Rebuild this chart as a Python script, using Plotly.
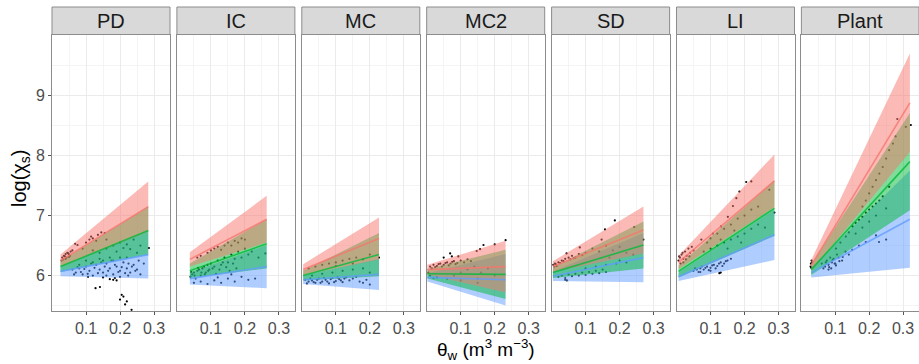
import plotly.graph_objects as go

facets = ["PD", "IC", "MC", "MC2", "SD", "LI", "Plant"]
x_start = [0.025, 0.038, 0.004, 0.002, 0.004, 0.006, 0.029]
x_end = [0.283, 0.264, 0.227, 0.232, 0.270, 0.288, 0.320]

# fitted line (start, end) and band half-width (start, end) per group
red_line0 = [6.25, 6.27, 6.10, 6.10, 6.15, 6.22, 6.17]
red_line1 = [7.15, 6.94, 6.62, 6.15, 6.76, 7.58, 8.88]
red_hw0 = [0.10, 0.12, 0.09, 0.08, 0.09, 0.11, 0.09]
red_hw1 = [0.42, 0.39, 0.35, 0.43, 0.39, 0.44, 0.82]

green_line0 = [6.15, 6.08, 6.00, 6.03, 6.05, 6.07, 6.10]
green_line1 = [6.75, 6.53, 6.35, 6.02, 6.51, 7.12, 7.90]
green_hw0 = [0.09, 0.12, 0.08, 0.08, 0.09, 0.10, 0.09]
green_hw1 = [0.40, 0.41, 0.36, 0.41, 0.39, 0.46, 0.81]

blue_line0 = [6.07, 5.95, 5.93, 5.97, 5.99, 5.98, 6.05]
blue_line1 = [6.35, 6.15, 6.02, 5.93, 6.30, 6.68, 6.94]
blue_hw0 = [0.08, 0.10, 0.07, 0.07, 0.08, 0.07, 0.08]
blue_hw1 = [0.40, 0.36, 0.26, 0.43, 0.41, 0.42, 0.81]

PD_x = [0.03,0.035,0.04,0.045,0.05,0.055,0.04,0.06,0.033,0.05,0.038,0.043,0.048,0.053,0.028,
        0.068,0.075,0.09,0.1,0.11,0.115,0.12,0.13,0.135,0.145,0.155,0.16,
        0.12,0.14,0.16,0.18,0.19,0.2,0.21,0.22,0.23,0.24,0.25,0.17,0.15,0.2,0.26,0.285,
        0.06,0.07,0.08,0.09,0.1,0.11,0.12,0.13,0.14,0.15,0.16,0.17,0.18,0.19,0.2,0.21,0.22,0.23,0.24,0.25,0.26,0.27,0.1,0.14,0.18,0.22,0.08,0.12,0.16,0.2,
        0.065,0.075,0.085,0.095,0.105,0.115,0.125,0.135,0.145,0.155,0.165,0.175,0.185,0.195,0.205,0.215,0.225,0.235,0.245,0.255,
        0.106,0.128,0.141,0.17,0.18,0.185,0.19,0.205,0.2,0.21,0.22,0.234,0.215,0.224,0.15]
PD_y = [6.30,6.33,6.36,6.38,6.35,6.40,6.28,6.42,6.27,6.31,6.32,6.30,6.37,6.33,6.25,
        6.53,6.51,6.45,6.55,6.60,6.65,6.62,6.58,6.68,6.72,6.71,6.60,
        6.42,6.38,6.45,6.50,6.40,6.55,6.46,6.52,6.44,6.60,6.38,6.30,6.25,6.30,6.50,6.46,
        6.10,6.05,6.12,6.02,6.15,6.08,6.00,6.18,6.10,6.05,6.20,6.12,6.02,6.15,6.08,6.22,6.12,6.05,6.18,6.10,6.02,6.20,6.25,6.28,6.25,6.30,6.18,6.22,6.00,5.98,
        6.02,6.14,6.06,6.11,6.03,6.20,6.13,6.04,6.22,6.15,6.08,6.25,6.18,6.06,6.14,6.04,6.20,6.15,6.08,6.25,
        5.98,5.79,5.81,5.94,5.93,5.96,5.92,5.68,5.60,5.65,5.57,5.43,5.52,6.00,5.97]

IC_x = [0.04,0.045,0.05,0.055,0.06,0.065,0.07,0.075,0.08,0.085,0.09,0.095,0.1,0.11,0.12,0.13,0.14,0.15,0.16,0.17,0.18,0.19,0.2,0.21,0.22,0.24,0.26,
        0.042,0.052,0.062,0.072,0.082,0.092,0.105,0.115,0.125,0.135,0.145,0.155,0.165,0.175,
        0.09,0.1,0.11,0.12,0.13,0.14,0.15,0.16,0.17,0.18,0.19,0.2,0.06,0.07,
        0.05,0.07,0.09,0.11,0.13,0.15,0.17,0.19,0.21,0.23,0.12,0.16]
IC_y = [5.98,6.02,6.05,5.95,6.08,6.10,6.00,6.12,6.15,6.05,6.18,6.10,6.20,6.15,6.25,6.18,6.30,6.22,6.35,6.28,6.40,6.30,6.45,6.35,6.40,6.30,6.37,
        6.06,6.00,6.13,6.05,6.02,6.08,6.12,6.03,6.10,6.22,6.14,6.08,6.20,6.12,
        6.38,6.42,6.45,6.48,6.43,6.50,6.55,6.50,6.58,6.55,6.62,6.60,6.30,6.33,
        5.88,5.90,5.86,5.92,5.88,5.95,5.90,5.98,5.93,5.95,5.97,6.02]

MC_x = [0.01,0.02,0.03,0.04,0.05,0.06,0.07,0.08,0.09,0.1,0.11,0.12,0.13,0.14,0.15,0.17,0.19,0.2,
        0.015,0.025,0.035,0.045,0.055,0.065,0.075,0.085,0.095,0.105,0.115,0.125,0.16,0.18,
        0.03,0.06,0.09,0.12,0.15,0.18,0.2,
        0.02,0.04,0.06,0.08,0.1,0.12,0.14,0.16,0.18,0.2,0.227,0.1,0.15]
MC_y = [5.93,5.90,5.92,5.88,5.95,5.90,5.93,5.87,5.96,5.91,5.94,5.89,5.97,5.92,5.95,5.90,5.93,5.85,
        5.87,5.95,5.89,5.93,5.88,5.96,5.90,5.94,5.89,5.97,5.92,5.95,5.98,5.88,
        6.00,6.03,6.05,6.08,6.10,6.12,6.05,
        6.12,6.15,6.18,6.20,6.22,6.25,6.28,6.30,6.27,6.35,6.30,6.16,6.20]

MC2_x = [0.01,0.02,0.03,0.04,0.05,0.06,0.07,0.08,0.09,0.1,0.11,0.12,0.13,0.069,0.074,0.093,0.05,
         0.015,0.025,0.035,0.045,0.055,0.065,0.075,0.085,
         0.147,0.157,0.167,0.2,0.232,0.12,0.14,0.16,0.18,0.2,0.1,0.08,0.15,
         0.01,0.005,0.02,0.03,0.06,0.1,0.15]
MC2_y = [6.15,6.18,6.16,6.20,6.18,6.22,6.20,6.24,6.21,6.25,6.22,6.27,6.24,6.37,6.32,6.32,6.30,
         6.12,6.14,6.19,6.15,6.21,6.17,6.23,6.19,
         6.41,6.44,6.51,6.52,6.59,6.10,6.15,6.05,6.12,6.00,6.05,6.00,5.95,
         6.00,6.05,5.96,5.97,5.95,5.92,5.88]

SD_x = [0.005,0.01,0.015,0.02,0.03,0.04,0.05,0.06,0.07,0.08,0.09,0.1,0.044,0.083,0.157,0.186,0.243,0.147,0.27,
        0.008,0.012,0.025,0.035,0.055,0.065,
        0.12,0.14,0.16,0.18,0.2,0.22,0.17,0.2,0.24,
        0.02,0.03,0.04,0.05,0.06,0.07,0.08,0.09,0.1,0.11,0.12,0.13,0.14,0.15,0.16,0.04,0.045,
        0.1,0.13,0.16,0.19,0.22]
SD_y = [6.18,6.20,6.16,6.22,6.25,6.28,6.30,6.33,6.30,6.36,6.34,6.38,6.37,6.47,6.77,6.92,6.81,6.60,6.60,
        6.15,6.19,6.21,6.24,6.27,6.29,
        6.45,6.40,6.50,6.42,6.48,6.38,6.30,6.25,6.35,
        5.98,6.00,5.96,6.02,5.99,6.03,6.00,6.05,6.01,6.06,6.03,6.08,6.04,6.10,6.06,5.93,5.92,
        6.12,6.15,6.18,6.20,6.22]

LI_x = [0.006,0.01,0.015,0.02,0.025,0.03,0.035,0.04,0.045,0.012,0.02,0.05,0.008,0.018,0.028,0.038,
        0.073,0.107,0.131,0.151,0.166,0.176,0.185,0.205,0.22,0.273,0.288,
        0.09,0.1,0.12,0.14,0.16,0.18,0.2,0.22,0.24,0.13,0.17,
        0.08,0.1,0.12,0.14,0.16,0.18,0.2,0.22,0.24,0.26,0.15,0.19,
        0.05,0.06,0.07,0.08,0.09,0.1,0.11,0.12,0.13,0.14,0.15,0.16,0.07,0.1,0.126,0.13,
        0.055,0.065,0.075,0.085,0.095,0.105,0.115,0.125,0.135,0.145]
LI_y = [6.25,6.30,6.35,6.28,6.40,6.33,6.45,6.38,6.48,6.20,6.22,6.42,6.32,6.38,6.27,6.32,
        6.60,6.70,6.82,6.98,7.16,7.29,7.40,7.56,7.57,7.43,7.05,
        6.55,6.62,6.70,6.78,6.85,6.95,7.00,7.10,7.15,6.60,6.75,
        6.40,6.45,6.50,6.55,6.60,6.65,6.70,6.78,6.85,6.80,6.45,6.55,
        6.08,6.10,6.12,6.10,6.15,6.13,6.18,6.16,6.22,6.20,6.25,6.28,6.06,6.08,6.04,6.05,
        6.12,6.06,6.15,6.13,6.09,6.17,6.12,6.20,6.16,6.24]

Plant_x = [0.027,0.028,0.03,0.029,0.031,0.06,0.07,0.075,0.08,0.085,0.09,0.095,0.1,0.105,0.11,0.12,0.13,0.14,0.15,0.065,0.08,
           0.072,0.082,0.092,0.102,0.112,0.122,0.088,0.098,
           0.102,0.115,0.131,0.14,0.151,0.16,0.17,0.18,0.19,0.2,0.21,0.22,0.23,0.24,0.259,0.16,0.18,0.2,0.22,0.25,
           0.18,0.19,0.2,0.21,0.22,0.23,0.24,0.25,0.259,0.27,0.278,0.283,0.323,0.308,
           0.19,0.22,0.229,0.17,0.25]
Plant_y = [6.15,6.20,6.25,6.13,6.22,6.20,6.15,6.25,6.18,6.30,6.22,6.28,6.20,6.35,6.30,6.25,6.40,6.35,6.43,6.12,6.10,
           6.22,6.14,6.26,6.17,6.24,6.31,6.12,6.20,
           6.45,6.55,6.65,6.72,6.82,6.88,6.93,6.98,7.05,7.10,7.15,7.20,7.25,7.32,7.48,6.70,6.80,6.90,7.00,7.12,
           7.15,7.25,7.37,7.48,7.59,7.70,7.81,7.95,8.09,8.20,8.32,8.61,8.51,8.48,
           6.56,6.67,6.56,6.50,6.60]

pts_x = [PD_x, IC_x, MC_x, MC2_x, SD_x, LI_x, Plant_x]
pts_y = [PD_y, IC_y, MC_y, MC2_y, SD_y, LI_y, Plant_y]

groups = {
    "blue": (blue_line0, blue_line1, blue_hw0, blue_hw1, "rgba(97,156,255,0.5)", "rgba(97,156,255,0.8)"),
    "green": (green_line0, green_line1, green_hw0, green_hw1, "rgba(0,186,56,0.5)", "rgba(0,186,56,0.8)"),
    "red": (red_line0, red_line1, red_hw0, red_hw1, "rgba(248,118,109,0.5)", "rgba(248,118,109,0.8)"),
}

W, H = 919, 364
ML, MR, MT, MB = 52, 0, 35, 53
PW_TOT = W - ML - MR
PH = H - MT - MB
pitch, pw = 124.9, 118.0

FONT = "Liberation Sans, Arial, Helvetica, sans-serif"
BORDER = "#8C8C8C"

fig = go.Figure()
layout = {}
shapes = []
annotations = []

for i, f in enumerate(facets):
    n = "" if i == 0 else str(i + 1)
    xa, ya = "x" + n, "y" + n
    fig.add_trace(go.Scatter(x=pts_x[i], y=pts_y[i], mode="markers",
                             marker=dict(color="black", size=2.2, line=dict(width=0)),
                             xaxis=xa, yaxis=ya, showlegend=False, hoverinfo="skip"))
    for g in ["blue", "green", "red"]:
        l0, l1, h0, h1, fc, lc = groups[g]
        x0, x1 = x_start[i], x_end[i]
        fig.add_trace(go.Scatter(
            x=[x0, x1, x1, x0, x0],
            y=[l0[i] - h0[i], l1[i] - h1[i], l1[i] + h1[i], l0[i] + h0[i], l0[i] - h0[i]],
            mode="lines", fill="toself", fillcolor=fc, line=dict(width=0),
            xaxis=xa, yaxis=ya, showlegend=False, hoverinfo="skip"))
    for g in ["red", "green", "blue"]:
        l0, l1, h0, h1, fc, lc = groups[g]
        fig.add_trace(go.Scatter(x=[x_start[i], x_end[i]], y=[l0[i], l1[i]], mode="lines",
                                 line=dict(color=lc, width=1.6),
                                 xaxis=xa, yaxis=ya, showlegend=False, hoverinfo="skip"))

    d0 = i * pitch / PW_TOT
    d1 = min(1.0, (i * pitch + pw) / PW_TOT)
    layout["xaxis" + n] = dict(
        domain=[d0, d1], range=[0, 0.347], anchor=ya,
        tickmode="array", tickvals=[0.1, 0.2, 0.3], ticktext=["0.1", "0.2", "0.3"],
        showgrid=True, gridcolor="#EBEBEB", gridwidth=1,
        minor=dict(tickmode="array", tickvals=[0.05, 0.15, 0.25], showgrid=True,
                   gridcolor="#F4F4F4", gridwidth=0.6, ticks=""),
        showline=True, mirror=True, linecolor=BORDER, linewidth=1,
        ticks="outside", ticklen=3, tickcolor="#555555",
        tickfont=dict(size=16, color="#4D4D4D", family=FONT), zeroline=False)
    layout["yaxis" + n] = dict(
        domain=[0, 1], range=[5.41, 10.01], anchor=xa,
        tickmode="array", tickvals=[6, 7, 8, 9], ticktext=["6", "7", "8", "9"],
        showticklabels=(i == 0), ticks="outside" if i == 0 else "", ticklen=3, tickcolor="#555555",
        showgrid=True, gridcolor="#EBEBEB", gridwidth=1,
        minor=dict(tickmode="array", tickvals=[5.5, 6.5, 7.5, 8.5, 9.5], showgrid=True,
                   gridcolor="#F4F4F4", gridwidth=0.6, ticks=""),
        showline=True, mirror=True, linecolor=BORDER, linewidth=1,
        tickfont=dict(size=16, color="#4D4D4D", family=FONT), zeroline=False)
    if i > 0:
        layout["yaxis" + n]["matches"] = "y"

    shapes.append(dict(type="rect", xref="paper", yref="paper", x0=d0, x1=d1,
                       y0=1 + 0.5 / PH, y1=1 + 28 / PH, fillcolor="#D9D9D9",
                       line=dict(color=BORDER, width=1), layer="above"))
    annotations.append(dict(text=f, xref="paper", yref="paper", x=(d0 + d1) / 2, y=1 + 14.5 / PH,
                            showarrow=False, xanchor="center", yanchor="middle",
                            font=dict(size=20, color="#1A1A1A", family=FONT)))

annotations.append(dict(text="θ<sub>w</sub> (m<sup>3</sup> m<sup>−3</sup>)", xref="paper", yref="paper",
                        x=0.5, y=(311 - 349) / PH, showarrow=False, xanchor="center", yanchor="middle",
                        font=dict(size=19, color="black", family=FONT)))
annotations.append(dict(text="log(χ<sub>s</sub>)", xref="paper", yref="paper",
                        x=(20 - ML) / PW_TOT, y=(311 - 178) / PH, showarrow=False, textangle=-90,
                        xanchor="center", yanchor="middle",
                        font=dict(size=20, color="black", family=FONT)))

fig.update_layout(**layout)
fig.update_layout(width=W, height=H, margin=dict(l=ML, r=MR, t=MT, b=MB, pad=0),
                  paper_bgcolor="white", plot_bgcolor="white",
                  shapes=shapes, annotations=annotations, showlegend=False,
                  font=dict(family=FONT))

fig.write_html("out.html")
